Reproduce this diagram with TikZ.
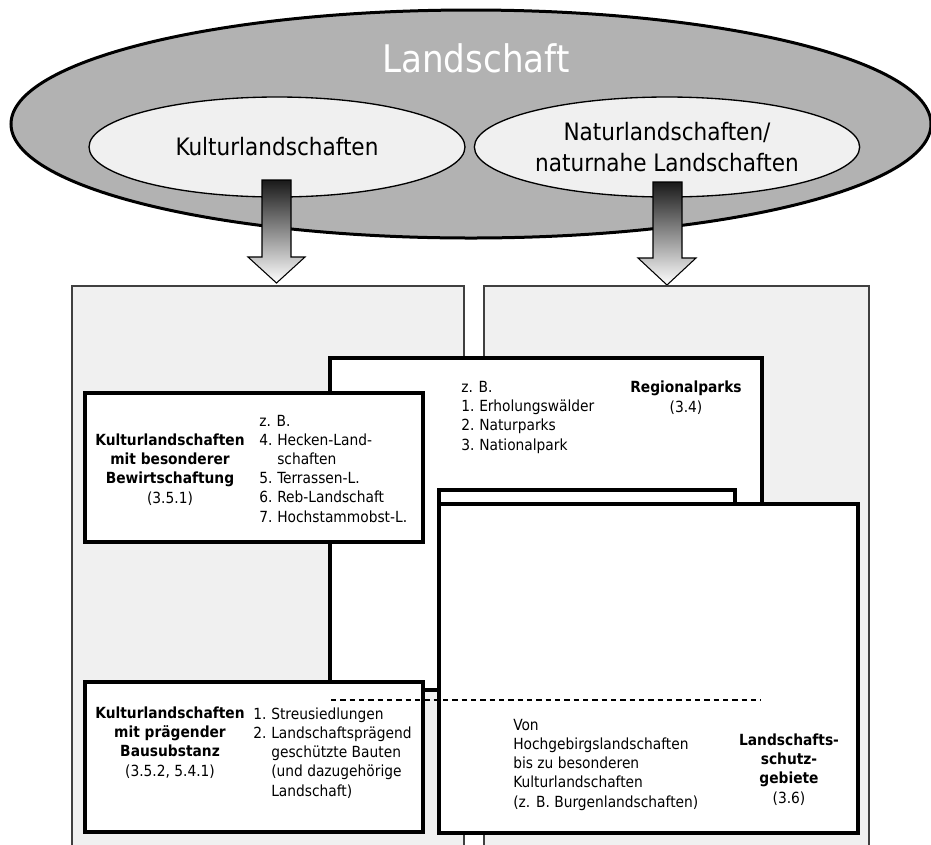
\documentclass[tikz,border=0pt]{standalone}
\usepackage{fontspec}
\setmainfont{DejaVu Sans Condensed}[BoldFont={DejaVu Sans Condensed Bold}]
\usepackage{tikz}
\usetikzlibrary{shapes.geometric}

\definecolor{panelgrey}{HTML}{F0F0F0}
\definecolor{landgrey}{HTML}{B2B2B2}
\newcommand{\listnum}[1]{\makebox[13.5pt][l]{#1}}

\begin{document}
\begin{tikzpicture}[x=0.75pt,y=-0.75pt,
    panel/.style={draw=black!75,line width=1.1pt,fill=panelgrey},
    thickbox/.style={draw=black,line width=3pt,fill=white},
    blockarrow/.style={draw=black,line width=0.8pt,top color=black!90,bottom color=white},
    smalltext/.style={font=\fontsize{11.5}{14.4}\selectfont,inner sep=0pt}]
        \useasboundingbox (0,0) rectangle (931,844);
        \clip (0,0) rectangle (931,844);

        \node[shape=ellipse,draw=black,line width=2.25pt,fill=landgrey,minimum width=690pt,minimum height=171pt] (land) at (471,124) {};
        \node[text=white,font=\fontsize{28.5}{34}\selectfont] (landtitle) at (476,58) {Landschaft};
        \node[shape=ellipse,draw=black,line width=1pt,fill=panelgrey,minimum width=282pt,minimum height=75pt,font=\fontsize{18}{23}\selectfont] (kultur) at (277,147) {Kulturlandschaften};
        \node[shape=ellipse,draw=black,line width=1pt,fill=panelgrey,minimum width=283pt,minimum height=75pt,font=\fontsize{18}{23}\selectfont,align=center] (natur) at (667,147) {Naturlandschaften/\\naturnahe Landschaften};

        \draw[blockarrow] (262,180) -- (291,180) -- (291,257) -- (305,257) -- (276.5,283) -- (248,257) -- (262,257) -- cycle;
        \draw[blockarrow] (653,182) -- (682,182) -- (682,258) -- (696,258) -- (667,285) -- (638,258) -- (653,258) -- cycle;

        \draw[panel] (72,286) rectangle (464,860);
        \draw[panel] (484,286) rectangle (869,860);

        \draw[thickbox] (330,358) rectangle (762,690);
        \draw[thickbox] (85,393) rectangle (423,542);
        \draw[thickbox] (439,490) rectangle (735,700);
        \draw[thickbox] (439,504) rectangle (858,833);
        \draw[thickbox] (85,682) rectangle (423,832);
        \draw[line width=1.1pt,dash pattern=on 4pt off 3pt] (331,700) -- (761,700);

        \node[smalltext,align=center,anchor=base] (bewtitle) at (170,503) {\textbf{Kulturlandschaften}\\\textbf{mit besonderer}\\\textbf{Bewirtschaftung}\\(3.5.1)};
        \node[smalltext,align=left,anchor=base west] (bewlist) at (259,522) {z. B.\\\listnum{4.}Hecken-Land-\\\listnum{}schaften\\\listnum{5.}Terrassen-L.\\\listnum{6.}Reb-Landschaft\\\listnum{7.}Hochstammobst-L.};
        \node[smalltext,align=left,anchor=base west] (reglist) at (461,450) {z. B.\\\listnum{1.}Erholungswälder\\\listnum{2.}Naturparks\\\listnum{3.}Nationalpark};
        \node[smalltext,align=center,anchor=base] (regtitle) at (686,412) {\textbf{Regionalparks}\\(3.4)};
        \node[smalltext,align=center,anchor=base] (bautitle) at (170,776) {\textbf{Kulturlandschaften}\\\textbf{mit prägender}\\\textbf{Bausubstanz}\\(3.5.2, 5.4.1)};
        \node[smalltext,align=left,anchor=base west] (baulist) at (253,796) {\listnum{1.}Streusiedlungen\\\listnum{2.}Landschaftsprägend\\\listnum{}geschützte Bauten\\\listnum{}(und dazugehörige\\\listnum{}Landschaft)};
        \node[smalltext,align=left,anchor=base west] (lstext) at (513,807) {Von\\Hochgebirgslandschaften\\bis zu besonderen\\Kulturlandschaften\\(z. B. Burgenlandschaften)};
        \node[smalltext,align=center,anchor=base] (lstitle) at (789,803) {\textbf{Landschafts-}\\\textbf{schutz-}\\\textbf{gebiete}\\(3.6)};
\end{tikzpicture}
\end{document}
